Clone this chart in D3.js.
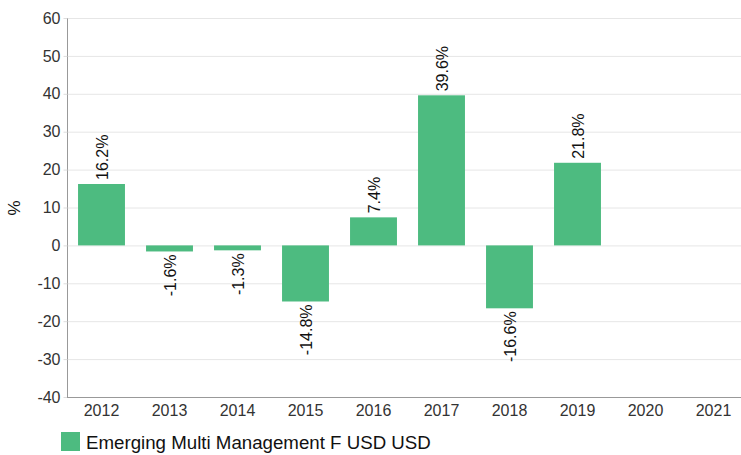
<html>
  <head>
    <meta charset="utf-8" />
    <script src="https://d3js.org/d3.v7.min.js"></script>
    <style>
      body { margin: 0; background: #fff; }
      text { font-family: "Liberation Sans", Arial, sans-serif; }
    </style>
  </head>
  <body>
    <svg id="chart" width="741" height="455"></svg>
    <script>
      // Data
      const years = ["2012", "2013", "2014", "2015", "2016", "2017", "2018", "2019", "2020", "2021"];
      const returns = [16.2, -1.6, -1.3, -14.8, 7.4, 39.6, -16.6, 21.8, null, null];
      const yTicks = [-40, -30, -20, -10, 0, 10, 20, 30, 40, 50, 60];
      const seriesName = "Emerging Multi Management F USD USD";

      const svg = d3.select("#chart");
      const plotLeft = 67, plotRight = 741, plotTop = 18, plotBottom = 397;
      const barColor = "#4dbb80";
      const fontFam = "Liberation Sans, Arial, sans-serif";

      // band scale runs a little past the right edge, as in the source
      const x = d3.scaleBand().domain(years).range([67.5, 747.5]).paddingInner(0.31).paddingOuter(0.155);
      const y = d3.scaleLinear().domain([-40, 60]).range([plotBottom, plotTop]);

      // grid lines
      svg.append("g")
        .selectAll("line")
        .data(yTicks)
        .join("line")
        .attr("x1", plotLeft)
        .attr("x2", plotRight)
        .attr("y1", (d) => y(d) + 0.5)
        .attr("y2", (d) => y(d) + 0.5)
        .attr("stroke", "#e6e6e6");

      // y axis
      const yAxis = d3.axisLeft(y).tickValues(yTicks).tickSize(4).tickPadding(3).tickFormat((d) => String(d));
      const gy = svg.append("g").attr("transform", `translate(${plotLeft + 0.5},0)`).call(yAxis);
      gy.select(".domain").attr("stroke", "#999").attr("d", `M0,${plotTop}V${plotBottom}`);
      gy.selectAll(".tick line").attr("stroke", "#ddd");
      gy.selectAll(".tick text").attr("fill", "#333").attr("font-size", 16).attr("font-family", fontFam);

      // x axis
      const xAxis = d3.axisBottom(x).tickSize(0).tickPadding(7);
      const gx = svg.append("g").attr("transform", `translate(0,${plotBottom + 0.5})`).call(xAxis);
      gx.select(".domain").attr("stroke", "#999").attr("d", `M${plotLeft},0H${plotRight}`);
      gx.selectAll(".tick text").attr("fill", "#333").attr("font-size", 16).attr("font-family", fontFam);

      // y label
      svg.append("text")
        .attr("transform", "translate(20,208) rotate(-90)")
        .attr("text-anchor", "middle")
        .attr("font-size", 17)
        .attr("fill", "#111")
        .text("%");

      const data = years.map((yr, i) => ({ year: yr, value: returns[i] })).filter((d) => d.value !== null);

      // bars
      svg.append("g")
        .selectAll("rect")
        .data(data)
        .join("rect")
        .attr("x", (d) => x(d.year))
        .attr("width", x.bandwidth())
        .attr("y", (d) => y(Math.max(0, d.value)))
        .attr("height", (d) => Math.abs(y(d.value) - y(0)))
        .attr("fill", barColor);

      // value labels, rotated
      svg.append("g")
        .selectAll("text")
        .data(data)
        .join("text")
        .attr("transform", (d) => {
          const cx = x(d.year) + x.bandwidth() / 2 + 6;
          const cy = d.value >= 0 ? y(d.value) - 4 : y(d.value) + 3;
          return `translate(${cx},${cy}) rotate(-90)`;
        })
        .attr("text-anchor", (d) => (d.value >= 0 ? "start" : "end"))
        .attr("font-size", 16)
        .attr("fill", "#111")
        .text((d) => d.value.toFixed(1) + "%");

      // legend
      svg.append("rect").attr("x", 61).attr("y", 432).attr("width", 19).attr("height", 19).attr("fill", barColor);
      svg.append("text")
        .attr("x", 86)
        .attr("y", 449)
        .attr("font-size", 18.7)
        .attr("fill", "#111")
        .text(seriesName);
    </script>
  </body>
</html>
